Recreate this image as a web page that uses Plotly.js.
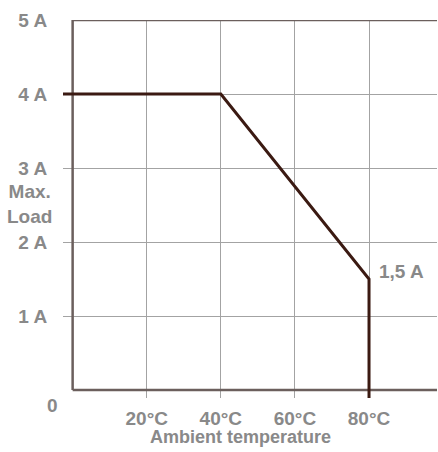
<!DOCTYPE html>
<html>
<head>
<meta charset="utf-8">
<script src="https://cdn.plot.ly/plotly-3.0.1.min.js"></script>
<style>html,body{margin:0;padding:0;background:#fff;}#chart{width:438px;height:452px;}</style>
</head>
<body>
<div id="chart"></div>
<script>
// Data
var tempC = [-2.6, 40, 80, 80];
var loadA = [4, 4, 1.5, -0.11];
var xTickVals = [20, 40, 60, 80];
var xTickText = ['20°C', '40°C', '60°C', '80°C'];
var yTickVals = [1, 2, 3, 4, 5];
var yTickText = ['1 A', '2 A', '3 A', '4 A', '5 A'];
var yGridVals = [1, 2, 3, 4];
var pointLabel = '1,5 A';

var W = 438, H = 452;
var mL = 63, mR = 1, mT = 20, mB = 54;
var pw = W - mL - mR, ph = H - mT - mB;
var xRange = [-2.6, 98.35];
var yRange = [-0.108, 5];
function px(x){ return (x - mL) / pw; }
function py(y){ return (H - mB - y) / ph; }
function bold(s){ return '<b>' + s + '</b>'; }

var font = {family: 'Liberation Sans, Arial, sans-serif', size: 19, color: '#898989'};
var titleFont = {family: 'Liberation Sans, Arial, sans-serif', size: 18, color: '#898989'};
var axisColor = '#6b5f5d';
var gridColor = '#a3a3a3';

var trace = {
  x: tempC, y: loadA, type: 'scatter', mode: 'lines',
  line: {color: '#3b1a12', width: 3},
  hoverinfo: 'skip'
};

var layout = {
  width: W, height: H,
  margin: {l: mL, r: mR, t: mT, b: mB},
  paper_bgcolor: '#fff', plot_bgcolor: '#fff',
  showlegend: false,
  font: font,
  xaxis: {
    range: xRange, fixedrange: true,
    tickmode: 'array', tickvals: xTickVals, ticktext: xTickText.map(bold),
    showgrid: true, gridcolor: gridColor, gridwidth: 1,
    zeroline: false, showline: false,
    ticks: 'outside', ticklen: 3, tickcolor: 'rgba(0,0,0,0)',
    tickfont: font
  },
  yaxis: {
    range: yRange, fixedrange: true,
    tickmode: 'array', tickvals: yTickVals, ticktext: yTickText.map(bold),
    showgrid: false, zeroline: false, showline: false,
    ticks: 'outside', ticklen: 11, tickcolor: 'rgba(0,0,0,0)',
    tickfont: font,
    minor: {tickmode: 'array', tickvals: yGridVals, showgrid: true, gridcolor: gridColor, gridwidth: 1, ticks: ''}
  },
  shapes: [
    {type: 'line', xref: 'x', yref: 'y', x0: 0, x1: 0, y0: 0, y1: 5, line: {color: axisColor, width: 2.5}, layer: 'between'},
    {type: 'line', xref: 'x', yref: 'y', x0: 0, x1: xRange[1], y0: 0, y1: 0, line: {color: axisColor, width: 2.5}, layer: 'between'},
    {type: 'line', xref: 'x', yref: 'y', x0: 0, x1: xRange[1], y0: 5, y1: 5, line: {color: axisColor, width: 2.5}, layer: 'between'}
  ],
  annotations: [
    {xref: 'x', yref: 'y', x: tempC[2], y: loadA[2], text: bold(pointLabel), showarrow: false,
     xanchor: 'left', yanchor: 'middle', xshift: 8, yshift: 8, font: font},
    {xref: 'paper', yref: 'paper', x: px(52), y: py(405), text: bold('0'), showarrow: false,
     xanchor: 'center', yanchor: 'middle', font: font},
    {xref: 'paper', yref: 'paper', x: px(29), y: py(204), text: bold('Max.<br>Load'), showarrow: false,
     xanchor: 'center', yanchor: 'middle', align: 'center', font: font},
    {xref: 'paper', yref: 'paper', x: px(240), y: py(437), text: bold('Ambient temperature'), showarrow: false,
     xanchor: 'center', yanchor: 'middle', font: titleFont}
  ]
};

Plotly.newPlot('chart', [trace], layout, {displayModeBar: false, staticPlot: true});
</script>
</body>
</html>
